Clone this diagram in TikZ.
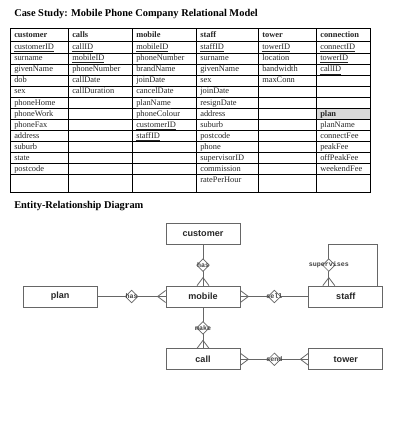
\documentclass[tikz,border=0pt]{standalone}
\usepackage{fontspec}
\setmainfont{Liberation Serif}
\setsansfont{Liberation Sans}
\setmonofont{Liberation Mono}
\usetikzlibrary{positioning}
\usetikzlibrary{shapes.geometric}
\usetikzlibrary{calc}

\begin{document}
\begin{tikzpicture}[
      x=0.75pt, y=-0.75pt,
      node distance=30.75pt and 51pt,
      heading/.style={anchor=base west,inner sep=0pt,font=\fontsize{7.8}{9}\selectfont\bfseries},
      cell/.style={anchor=west,inner sep=0pt,text height=4.4pt,text depth=1.2pt,font=\fontsize{6.3}{7}\selectfont,text=black!85},
      cellhead/.style={cell,font=\fontsize{6.3}{7}\selectfont\bfseries},
      tblline/.style={line width=0.75pt},
      entity/.style={draw=black!60,line width=0.6pt,minimum width=55.5pt,minimum height=15.75pt,font=\sffamily\bfseries\fontsize{6.8}{8}\selectfont,text=black!85},
      rel/.style={diamond,draw=black!60,fill=white,line width=0.5pt,minimum size=9.5pt,inner sep=0pt,
        label={[font=\ttfamily\bfseries\fontsize{5}{5}\selectfont,text=black!75,inner sep=0pt]center:#1}},
      link/.style={draw=black!60,line width=0.6pt}
      ]
      \useasboundingbox (0,0) rectangle (400,427);

      \node[heading] (title) at (14,16.5) {Case Study: Mobile Phone Company Relational Model};

      % relational model table
      \fill[black!15] (316,{42+11.08*6}) rectangle (370,{42+11.08*7});
      \draw[tblline] (10,29) rectangle (370,193);
      \foreach \x in {68,132,196,258,316}
        \draw[tblline] (\x,29) -- (\x,193);
      \foreach \k in {0,...,12}
        \draw[tblline] (10,{42+11.08*\k}) -- (370,{42+11.08*\k});

      \foreach \name/\x in {customer/14,calls/72,mobile/136,staff/200,tower/262,connection/320}
        \node[cellhead] (h-\name) at (\x,35.5) {\name};

      \foreach \t [count=\r] in {\underline{customerID},surname,givenName,dob,sex,phoneHome,phoneWork,phoneFax,address,suburb,state,postcode}
        \node[cell] (customer-\r) at (14,{42+11.08*(\r-0.5)}) {\t};
      \foreach \t [count=\r] in {\underline{callID},\underline{mobileID},phoneNumber,callDate,callDuration}
        \node[cell] (calls-\r) at (72,{42+11.08*(\r-0.5)}) {\t};
      \foreach \t [count=\r] in {\underline{mobileID},phoneNumber,brandName,joinDate,cancelDate,\underline{planName},phoneColour,\underline{customerID},\underline{staffID}}
        \node[cell] (mobile-\r) at (136,{42+11.08*(\r-0.5)}) {\t};
      \foreach \t [count=\r] in {\underline{staffID},surname,givenName,sex,joinDate,resignDate,address,suburb,postcode,phone,supervisorID,commission,ratePerHour}
        \node[cell] (staff-\r) at (200,{42+11.08*(\r-0.5)}) {\t};
      \foreach \t [count=\r] in {\underline{towerID},location,bandwidth,maxConn}
        \node[cell] (tower-\r) at (262,{42+11.08*(\r-0.5)}) {\t};
      \foreach \t [count=\r] in {\underline{connectID},\underline{towerID},\underline{callID}}
        \node[cell] (connection-\r) at (320,{42+11.08*(\r-0.5)}) {\t};
      \node[cellhead] (h-plan) at (320,{42+11.08*6.5}) {plan};
      \foreach \t [count=\r from 8] in {planName,connectFee,peakFee,offPeakFee,weekendFee}
        \node[cell] (plan-\r) at (320,{42+11.08*(\r-0.5)}) {\t};

      % entity-relationship diagram
      \node[heading] (ertitle) at (14,208.5) {Entity-Relationship Diagram};

      \node[entity] (mobile) at (203,296.5) {mobile};
      \node[entity, above=of mobile] (customer) {customer};
      \node[entity, left=of mobile] (plan) {plan};
      \node[entity, right=of mobile] (staff) {staff};
      \node[entity, below=of mobile] (call) {call};
      \node[entity, right=of call] (tower) {tower};

      \coordinate (svin) at ([xshift=-12.75pt]staff.north);
      \coordinate (svout) at ([xshift=24pt]staff.north);

      \path[link] (customer) -- node[rel=has] (hasc) {} (mobile)
      (plan) -- node[rel=has] (hasp) {} (mobile)
      (mobile) -- node[rel=sell] (sell) {} (staff)
      (mobile) -- node[rel=make] (make) {} (call)
      (call) -- node[rel=send] (send) {} (tower)
      (svin) -- node[rel=supervises] (sup) {} ++(0,-41) -| (svout)
      ;

      % crow's feet
      \draw[link] ([xshift=-4.5pt]mobile.north) -- ([yshift=6pt]mobile.north) -- ([xshift=4.5pt]mobile.north);
      \draw[link] ([yshift=4.5pt]mobile.west) -- ([xshift=-6pt]mobile.west) -- ([yshift=-4.5pt]mobile.west);
      \draw[link] ([yshift=4.5pt]mobile.east) -- ([xshift=6pt]mobile.east) -- ([yshift=-4.5pt]mobile.east);
      \draw[link] ([xshift=-4.5pt]svin) -- ([yshift=6pt]svin) -- ([xshift=4.5pt]svin);
      \draw[link] ([xshift=-4.5pt]call.north) -- ([yshift=6pt]call.north) -- ([xshift=4.5pt]call.north);
      \draw[link] ([yshift=4.5pt]call.east) -- ([xshift=6pt]call.east) -- ([yshift=-4.5pt]call.east);
      \draw[link] ([yshift=4.5pt]tower.west) -- ([xshift=-6pt]tower.west) -- ([yshift=-4.5pt]tower.west);
    \end{tikzpicture}
\end{document}
